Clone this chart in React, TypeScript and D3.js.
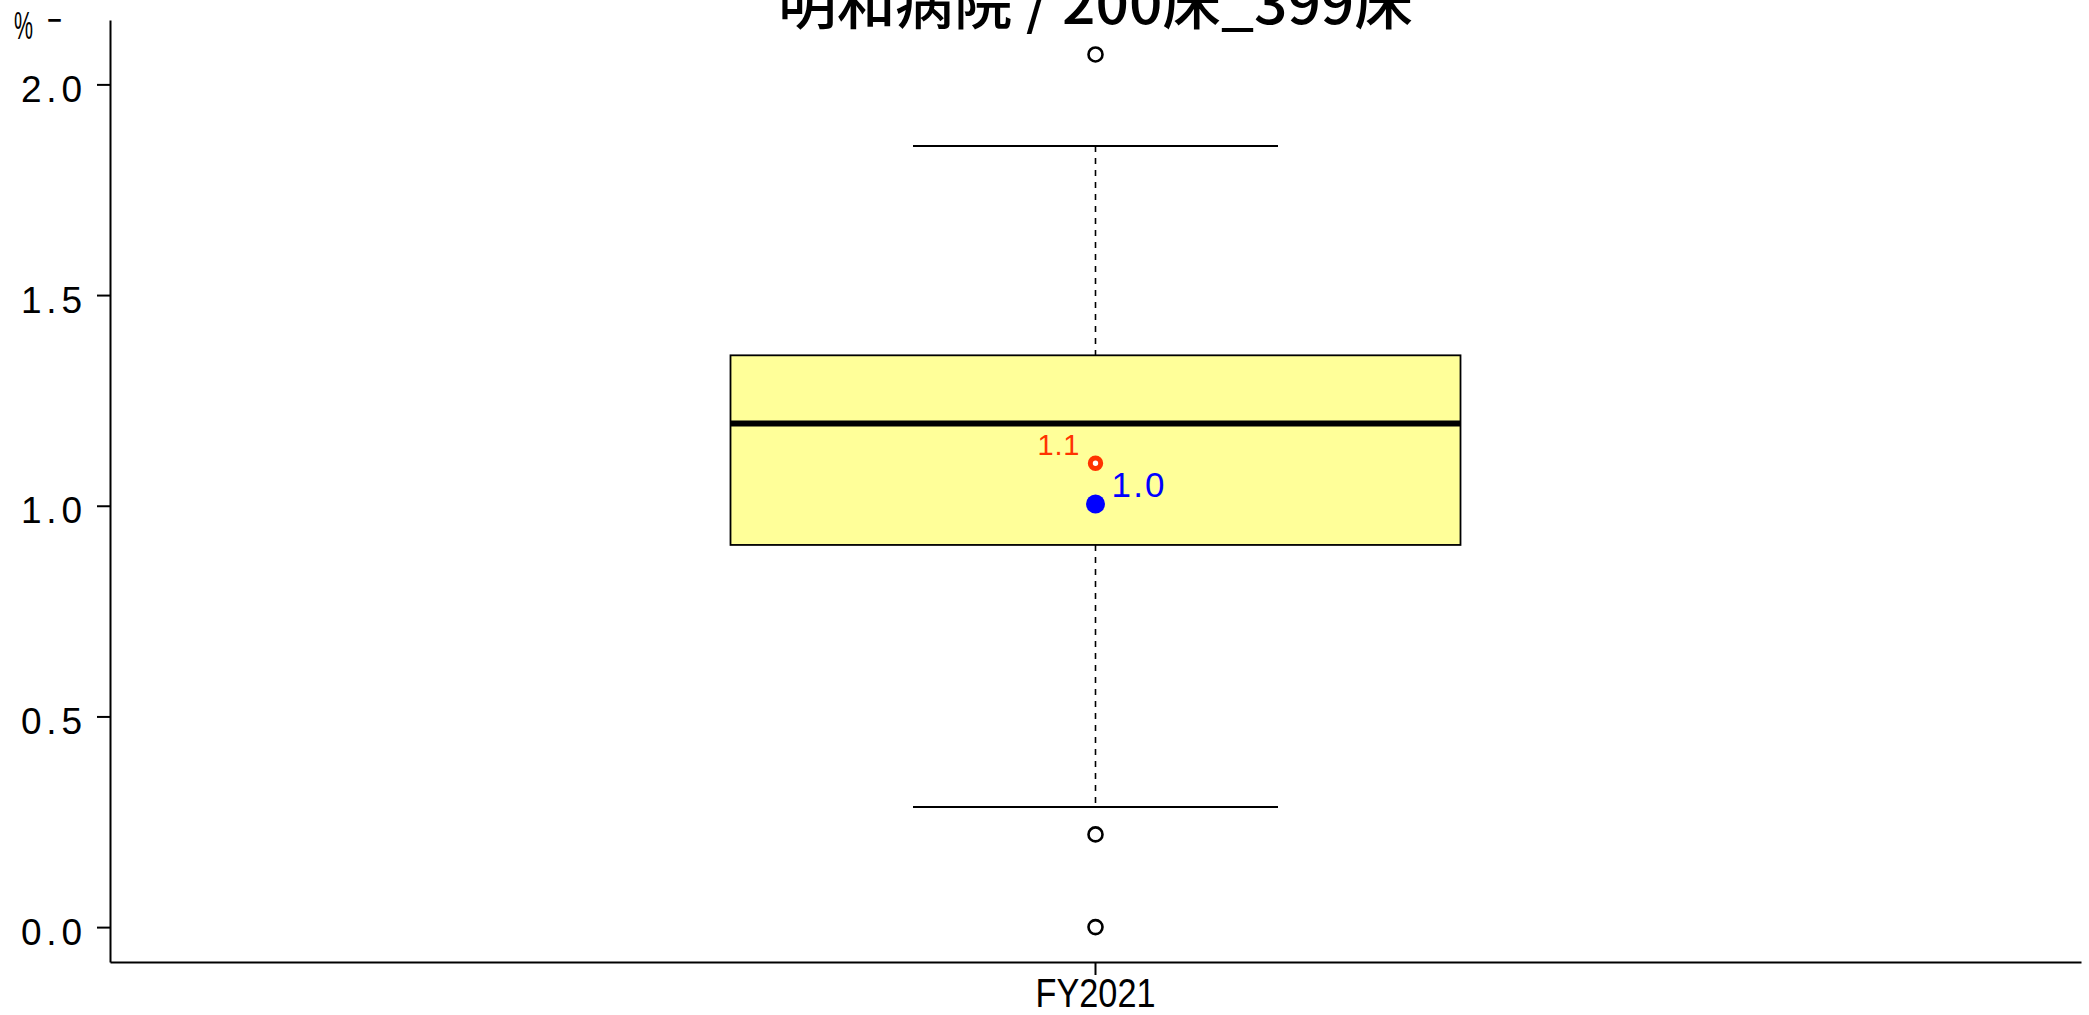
import * as d3 from "d3";
import { useEffect, useRef } from "react";

const categories = ["FY2021"];
const lowerWhisker = [0.285];
const lowerQuartile = [0.907];
const medians = [1.195];
const upperQuartile = [1.357];
const upperWhisker = [1.854];
const outliers = [[2.071, 0.22, 0.0]];
const groupAverage = [1.101];
const hospitalValue = [1.004];
const yTicks = [0, 0.5, 1.0, 1.5, 2.0];
const title = "明和病院 / 200床_399床";

export default function App() {
  const ref = useRef<SVGSVGElement>(null);

  useEffect(() => {
    const svg = d3.select(ref.current);
    svg.selectAll("*").remove();

    const width = 2089;
    const height = 1015;
    const left = 110;
    const right = 2081;
    const top = 20;
    const bottom = 962;

    svg.attr("width", width).attr("height", height);

    const y = d3.scaleLinear().domain([-0.0828, 2.1528]).range([bottom, top]);
    const x = d3.scaleBand().domain(categories).range([left, right]).paddingInner(0).paddingOuter(0.85);

    // title (clipped at top like the original)
    svg.append("text")
      .attr("x", (left + right) / 2)
      .attr("y", 24)
      .attr("text-anchor", "middle")
      .attr("font-family", "'Noto Sans CJK JP', sans-serif")
      .attr("font-size", 57)
      .attr("font-weight", 500)
      .attr("textLength", 635)
      .attr("lengthAdjust", "spacingAndGlyphs")
      .attr("fill", "#000")
      .text(title);

    // unit label
    svg.append("text")
      .attr("x", 14).attr("y", 39)
      .attr("font-family", "'Liberation Sans', Arial, sans-serif")
      .attr("font-size", 38)
      .attr("textLength", 19)
      .attr("lengthAdjust", "spacingAndGlyphs")
      .text("%");
    svg.append("text")
      .attr("x", 47).attr("y", 33)
      .attr("font-family", "'Liberation Sans', Arial, sans-serif")
      .attr("font-size", 38)
      .attr("textLength", 15)
      .attr("lengthAdjust", "spacingAndGlyphs")
      .text("−");

    // y axis
    const yAxis = svg.append("g")
      .attr("transform", `translate(${left},0)`)
      .call(d3.axisLeft(y).tickValues(yTicks).tickSize(13).tickSizeOuter(0).tickPadding(15).tickFormat(d3.format(".1f")));
    yAxis.select(".domain").attr("stroke-width", 2).attr("stroke", "#000");
    yAxis.selectAll(".tick line").attr("stroke-width", 2).attr("stroke", "#000");
    yAxis.selectAll(".tick text")
      .attr("font-family", "'Liberation Sans', Arial, sans-serif")
      .attr("font-size", 37)
      .attr("fill", "#000")
      .attr("dy", 17)
      .attr("textLength", 61)
      .attr("lengthAdjust", "spacing");

    // x axis
    const xAxis = svg.append("g")
      .attr("transform", `translate(0,${bottom})`)
      .call(d3.axisBottom(x).tickSize(13).tickSizeOuter(0).tickPadding(3.3));
    xAxis.select(".domain").attr("stroke-width", 2).attr("stroke", "#000");
    xAxis.selectAll(".tick line").attr("stroke-width", 2).attr("stroke", "#000");
    xAxis.selectAll(".tick text")
      .attr("font-family", "'Liberation Sans', Arial, sans-serif")
      .attr("font-size", 40)
      .attr("fill", "#000")
      .attr("textLength", 120)
      .attr("lengthAdjust", "spacingAndGlyphs");

    const bw = x.bandwidth();
    const g = svg.append("g");

    categories.forEach((c, i) => {
      const x0 = x(c)!;
      const cx = x0 + bw / 2;
      const capHalf = bw / 4;

      // dashed whiskers
      g.append("line")
        .attr("x1", cx).attr("x2", cx)
        .attr("y1", y(upperWhisker[i])).attr("y2", y(upperQuartile[i]))
        .attr("stroke", "#000").attr("stroke-width", 1.6).attr("stroke-dasharray", "6,6");
      g.append("line")
        .attr("x1", cx).attr("x2", cx)
        .attr("y1", y(lowerQuartile[i])).attr("y2", y(lowerWhisker[i]))
        .attr("stroke", "#000").attr("stroke-width", 1.6).attr("stroke-dasharray", "6,6");

      // caps
      [upperWhisker[i], lowerWhisker[i]].forEach(v => {
        g.append("line")
          .attr("x1", cx - capHalf).attr("x2", cx + capHalf)
          .attr("y1", y(v)).attr("y2", y(v))
          .attr("stroke", "#000").attr("stroke-width", 2);
      });

      // box
      g.append("rect")
        .attr("x", x0).attr("width", bw)
        .attr("y", y(upperQuartile[i]))
        .attr("height", y(lowerQuartile[i]) - y(upperQuartile[i]))
        .attr("fill", "#ffff99")
        .attr("stroke", "#000").attr("stroke-width", 1.8);

      // median
      g.append("line")
        .attr("x1", x0).attr("x2", x0 + bw)
        .attr("y1", y(medians[i])).attr("y2", y(medians[i]))
        .attr("stroke", "#000").attr("stroke-width", 6);

      // outliers
      g.selectAll(null)
        .data(outliers[i])
        .join("circle")
        .attr("cx", cx).attr("cy", d => y(d))
        .attr("r", 7)
        .attr("fill", "none")
        .attr("stroke", "#000").attr("stroke-width", 2.6);

      // group average (red)
      g.append("circle")
        .attr("cx", cx).attr("cy", y(groupAverage[i]))
        .attr("r", 5.2)
        .attr("fill", "#fff")
        .attr("stroke", "#ff3300").attr("stroke-width", 5);
      g.append("text")
        .attr("x", cx - 16).attr("y", y(groupAverage[i]) - 8)
        .attr("text-anchor", "end")
        .attr("font-family", "'Liberation Sans', Arial, sans-serif")
        .attr("font-size", 29)
        .attr("fill", "#ff3300")
        .attr("textLength", 42)
        .attr("lengthAdjust", "spacing")
        .text(d3.format(".1f")(groupAverage[i]));

      // hospital value (blue)
      g.append("circle")
        .attr("cx", cx).attr("cy", y(hospitalValue[i]))
        .attr("r", 9.5)
        .attr("fill", "#0000ff");
      g.append("text")
        .attr("x", cx + 16).attr("y", y(hospitalValue[i]) - 7)
        .attr("font-family", "'Liberation Sans', Arial, sans-serif")
        .attr("font-size", 35)
        .attr("fill", "#0000ff")
        .attr("textLength", 53)
        .attr("lengthAdjust", "spacing")
        .text(d3.format(".1f")(hospitalValue[i]));
    });
  }, []);

  return (
    <div style={{ position: "absolute", left: 0, top: 0, background: "#fff" }}>
      <svg ref={ref} style={{ display: "block" }}></svg>
    </div>
  );
}
